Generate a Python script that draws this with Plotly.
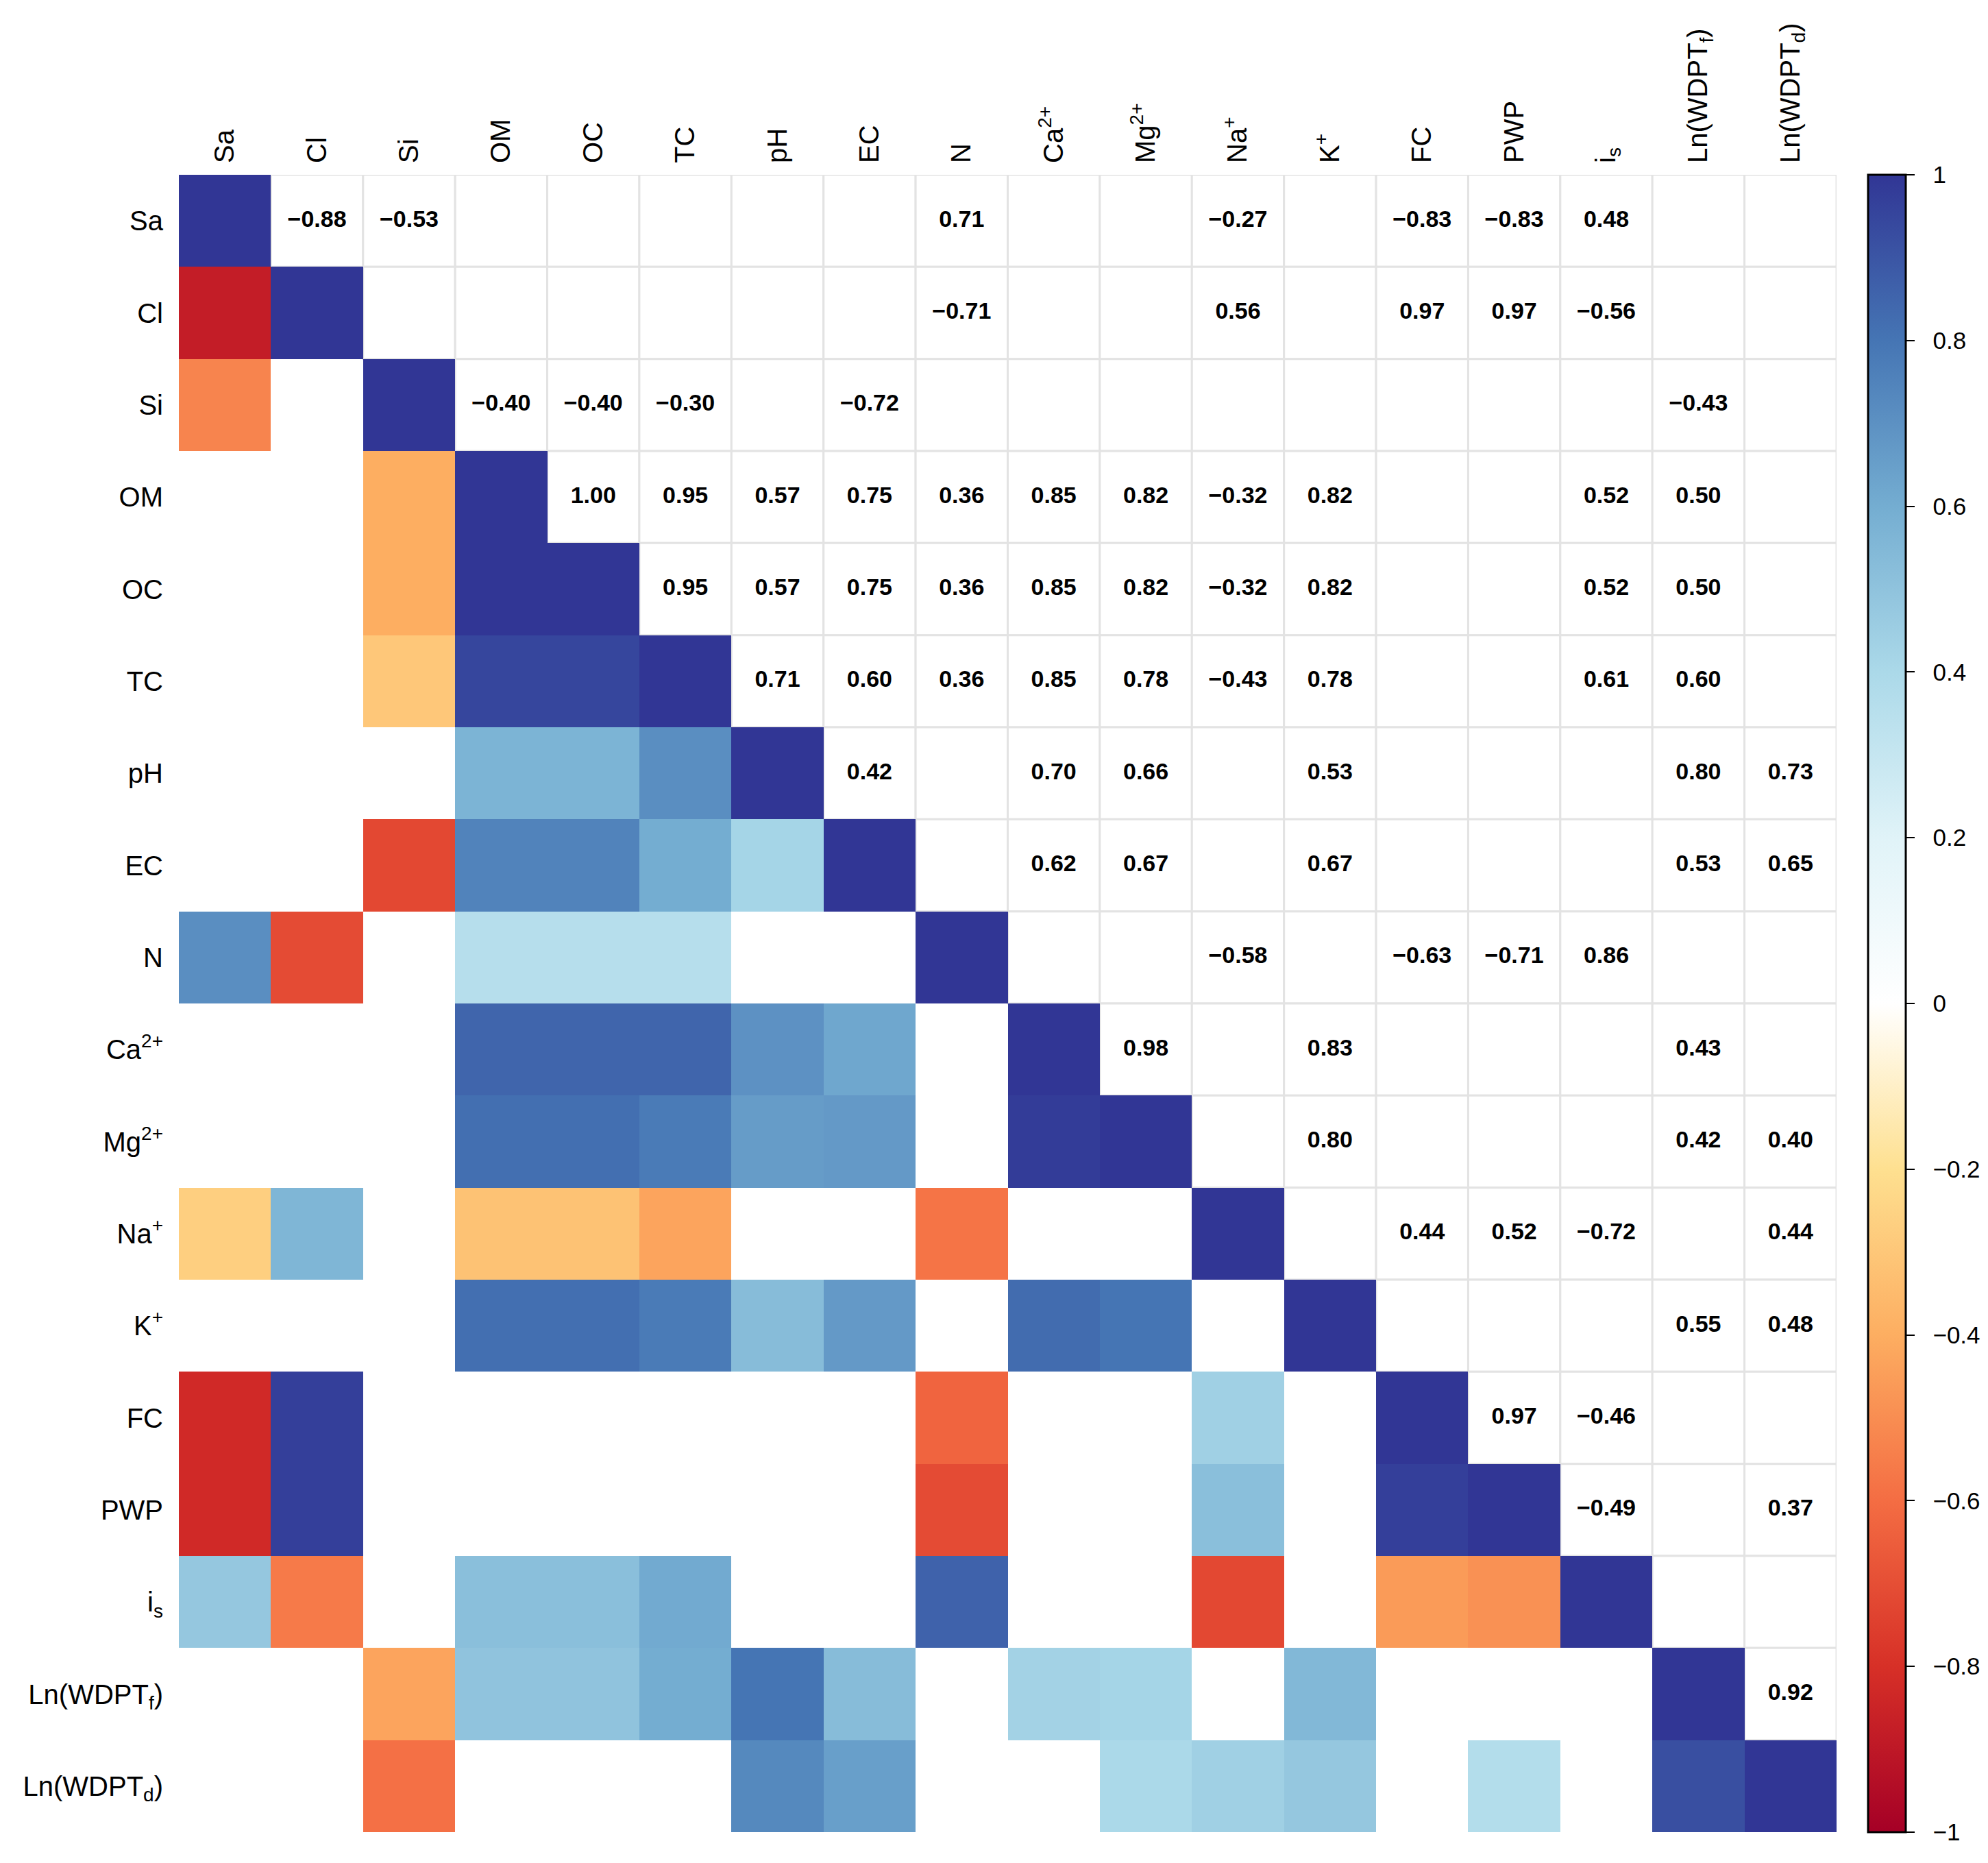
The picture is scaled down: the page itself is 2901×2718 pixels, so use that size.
import plotly.graph_objects as go

# variable names (html for the sub/superscripts)
names = ["Sa", "Cl", "Si", "OM", "OC", "TC", "pH", "EC", "N",
         "Ca<sup>2+</sup>", "Mg<sup>2+</sup>", "Na<sup>+</sup>", "K<sup>+</sup>",
         "FC", "PWP", "i<sub>s</sub>", "Ln(WDPT<sub>f</sub>)", "Ln(WDPT<sub>d</sub>)"]

N = None

# lower triangle + diagonal, shaded cells (row i holds columns 0..i)
shaded = [
  [1],
  [-0.88, 1],
  [-0.53, N, 1],
  [N, N, -0.40, 1],
  [N, N, -0.40, 1.00, 1],
  [N, N, -0.30, 0.95, 0.95, 1],
  [N, N, N, 0.57, 0.57, 0.71, 1],
  [N, N, -0.72, 0.75, 0.75, 0.60, 0.42, 1],
  [0.71, -0.71, N, 0.36, 0.36, 0.36, N, N, 1],
  [N, N, N, 0.85, 0.85, 0.85, 0.70, 0.62, N, 1],
  [N, N, N, 0.82, 0.82, 0.78, 0.66, 0.67, N, 0.98, 1],
  [-0.27, 0.56, N, -0.32, -0.32, -0.43, N, N, -0.58, N, N, 1],
  [N, N, N, 0.82, 0.82, 0.78, 0.53, 0.67, N, 0.83, 0.80, N, 1],
  [-0.83, 0.97, N, N, N, N, N, N, -0.63, N, N, 0.44, N, 1],
  [-0.83, 0.97, N, N, N, N, N, N, -0.71, N, N, 0.52, N, 0.97, 1],
  [0.48, -0.56, N, 0.52, 0.52, 0.61, N, N, 0.86, N, N, -0.72, N, -0.46, -0.49, 1],
  [N, N, -0.43, 0.50, 0.50, 0.60, 0.80, 0.53, N, 0.43, 0.42, N, 0.55, N, N, N, 1],
  [N, N, -0.59, N, N, N, 0.73, 0.65, N, N, 0.40, 0.44, 0.48, N, 0.37, N, 0.92, 1],
]

# upper triangle, printed coefficients (row i holds columns i+1..17)
printed = [
  [-0.88, -0.53, N, N, N, N, N, 0.71, N, N, -0.27, N, -0.83, -0.83, 0.48, N, N],
  [N, N, N, N, N, N, -0.71, N, N, 0.56, N, 0.97, 0.97, -0.56, N, N],
  [-0.40, -0.40, -0.30, N, -0.72, N, N, N, N, N, N, N, N, -0.43, N],
  [1.00, 0.95, 0.57, 0.75, 0.36, 0.85, 0.82, -0.32, 0.82, N, N, 0.52, 0.50, N],
  [0.95, 0.57, 0.75, 0.36, 0.85, 0.82, -0.32, 0.82, N, N, 0.52, 0.50, N],
  [0.71, 0.60, 0.36, 0.85, 0.78, -0.43, 0.78, N, N, 0.61, 0.60, N],
  [0.42, N, 0.70, 0.66, N, 0.53, N, N, N, 0.80, 0.73],
  [N, 0.62, 0.67, N, 0.67, N, N, N, 0.53, 0.65],
  [N, N, -0.58, N, -0.63, -0.71, 0.86, N, N],
  [0.98, N, 0.83, N, N, N, 0.43, N],
  [N, 0.80, N, N, N, 0.42, 0.40],
  [N, 0.44, 0.52, -0.72, N, 0.44],
  [N, N, N, 0.55, 0.48],
  [0.97, -0.46, N, N],
  [-0.49, N, 0.37],
  [N, N],
  [0.92],
]

cbar_ticks = [-1, -0.8, -0.6, -0.4, -0.2, 0, 0.2, 0.4, 0.6, 0.8, 1]

# corrplot style RdYlBu with a white middle
palette = ["#A50026", "#D73027", "#F46D43", "#FDAE61", "#FEE090", "#FFFFFF",
           "#E0F3F8", "#ABD9E9", "#74ADD1", "#4575B4", "#313695"]

n = len(names)
idx = list(range(n))

z = [row + [None] * (n - len(row)) for row in shaded]

tx, ty, tt = [], [], []
for i, row in enumerate(printed):
  for k, v in enumerate(row):
    if v is None:
      continue
    tx.append(i + 1 + k)
    ty.append(i)
    tt.append(f"{v:.2f}".replace("-", "\u2212"))

def fmt_tick(v):
  # nbsp pushes the label a bit away from the tick, like R does
  return "\u00a0\u00a0" + f"{v:g}".replace("-", "\u2212")

fig = go.Figure()
fig.add_trace(go.Heatmap(
  z=z, x=idx, y=idx, zmin=-1, zmax=1,
  colorscale=[[k / 10, c] for k, c in enumerate(palette)],
  hoverongaps=False,
  colorbar=dict(
    x=1.019, xanchor="left", y=0.5, yanchor="middle", len=1, ypad=0, xpad=0,
    thickness=55, outlinewidth=3, outlinecolor="black",
    tickvals=cbar_ticks, ticktext=[fmt_tick(v) for v in cbar_ticks],
    ticks="outside", ticklen=12, tickwidth=2, tickcolor="black",
    tickfont=dict(size=35, color="black", family="Liberation Sans"),
  ),
))
fig.add_trace(go.Scatter(
  x=tx, y=ty, text=tt, mode="text", hoverinfo="skip", showlegend=False,
  textfont=dict(size=34, color="black", family="Liberation Sans", weight="bold"),
))

# light grid around the upper cells only
for i in range(n):
  for j in range(i + 1, n):
    fig.add_shape(type="rect", x0=j - 0.5, x1=j + 0.5, y0=i - 0.5, y1=i + 0.5,
                  line=dict(color="#e3e3e3", width=3), fillcolor="white", layer="below")

fig.update_xaxes(range=[-0.5, n - 0.5], side="top", tickvals=idx, ticktext=names,
                 tickangle=-90, showgrid=False, zeroline=False, showline=False, ticks="",
                 ticklabelstandoff=16, automargin=False,
                 tickfont=dict(size=40, color="black", family="Liberation Sans"))
fig.update_yaxes(range=[n - 0.5, -0.5], tickvals=idx, ticktext=names,
                 showgrid=False, zeroline=False, showline=False, ticks="",
                 ticklabelstandoff=22, automargin=False,
                 tickfont=dict(size=40, color="black", family="Liberation Sans"))
# the page body adds 8px, so margins are 8px less on the left/top
fig.update_layout(
  width=2901, height=2718,
  margin=dict(l=253, r=229, t=247, b=53, autoexpand=False),
  paper_bgcolor="white", plot_bgcolor="white",
)
fig.write_html("out.html")
